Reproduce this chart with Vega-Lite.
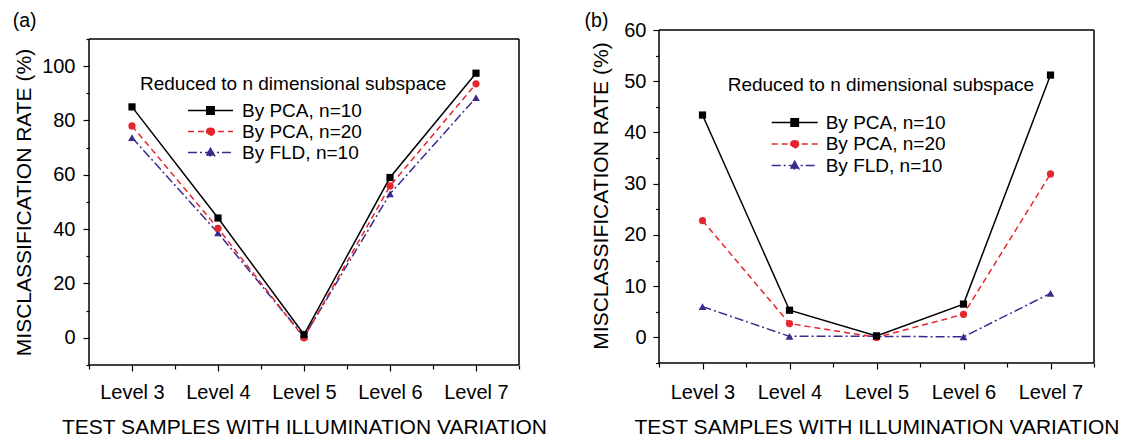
{
  "$schema": "https://vega.github.io/schema/vega-lite/v6.json",
  "padding": {"left": 12, "top": 10, "right": 0, "bottom": 0},
  "spacing": 37,
  "config": {
    "font": "Liberation Sans",
    "view": {"stroke": null},
    "axis": {
      "grid": false,
      "labelColor": "black",
      "titleColor": "black",
      "tickColor": "black",
      "domainColor": "black",
      "domainWidth": 1.5,
      "tickWidth": 1.2,
      "labelFontSize": 20,
      "titleFontSize": 21,
      "titleFontWeight": "normal",
      "labelOverlap": false,
      "labelFlush": false,
      "labelBound": false
    },
    "legend": {
      "labelColor": "black",
      "titleColor": "black",
      "titleFontWeight": "normal",
      "titleFontSize": 19,
      "labelFontSize": 19,
      "labelLimit": 400,
      "titleLimit": 500,
      "padding": 0
    }
  },
  "datasets": {
    "a": [
      {"level": 3, "series": "By PCA, n=10", "rate": 85.0},
      {"level": 4, "series": "By PCA, n=10", "rate": 44.1},
      {"level": 5, "series": "By PCA, n=10", "rate": 1.2},
      {"level": 6, "series": "By PCA, n=10", "rate": 59.0},
      {"level": 7, "series": "By PCA, n=10", "rate": 97.4},
      {"level": 3, "series": "By PCA, n=20", "rate": 78.0},
      {"level": 4, "series": "By PCA, n=20", "rate": 40.3},
      {"level": 5, "series": "By PCA, n=20", "rate": 0.0},
      {"level": 6, "series": "By PCA, n=20", "rate": 55.9},
      {"level": 7, "series": "By PCA, n=20", "rate": 93.5},
      {"level": 3, "series": "By FLD, n=10", "rate": 73.7},
      {"level": 4, "series": "By FLD, n=10", "rate": 38.6},
      {"level": 5, "series": "By FLD, n=10", "rate": 0.4},
      {"level": 6, "series": "By FLD, n=10", "rate": 53.0},
      {"level": 7, "series": "By FLD, n=10", "rate": 88.4}
    ],
    "b": [
      {"level": 3, "series": "By PCA, n=10", "rate": 43.4},
      {"level": 4, "series": "By PCA, n=10", "rate": 5.3},
      {"level": 5, "series": "By PCA, n=10", "rate": 0.3},
      {"level": 6, "series": "By PCA, n=10", "rate": 6.5},
      {"level": 7, "series": "By PCA, n=10", "rate": 51.2},
      {"level": 3, "series": "By PCA, n=20", "rate": 22.8},
      {"level": 4, "series": "By PCA, n=20", "rate": 2.7},
      {"level": 5, "series": "By PCA, n=20", "rate": 0.0},
      {"level": 6, "series": "By PCA, n=20", "rate": 4.5},
      {"level": 7, "series": "By PCA, n=20", "rate": 31.9},
      {"level": 3, "series": "By FLD, n=10", "rate": 6.0},
      {"level": 4, "series": "By FLD, n=10", "rate": 0.2},
      {"level": 5, "series": "By FLD, n=10", "rate": 0.2},
      {"level": 6, "series": "By FLD, n=10", "rate": 0.1},
      {"level": 7, "series": "By FLD, n=10", "rate": 8.6}
    ]
  },
  "resolve": {"scale": {"color": "independent"}, "legend": {"color": "independent"}},
  "hconcat": [
    {
      "width": 430,
      "height": 335,
      "resolve": {"scale": {"y": "independent"}, "axis": {"y": "independent"}},
      "layer": [
        {
          "data": {"name": "a"},
          "encoding": {
            "x": {"field": "level", "type": "quantitative", "scale": {"domain": [2.5, 7.5], "nice": false, "zero": false},
              "axis": {"title": "TEST SAMPLES WITH ILLUMINATION VARIATION", "values": [2.5, 3, 3.5, 4, 4.5, 5, 5.5, 6, 6.5, 7, 7.5],
                "labelExpr": "datum.value % 1 == 0 ? 'Level ' + datum.value : ''",
                "tickSize": {"condition": {"test": "datum.value % 1 == 0", "value": 6}, "value": 4},
                "domain": false,
                "labelBaseline": "alphabetic", "labelPadding": 27, "titleY": 68, "titleBaseline": "alphabetic"}},
            "y": {"field": "rate", "type": "quantitative", "scale": {"domain": [-10, 113.3], "nice": false, "zero": false},
              "axis": {"title": "MISCLASSIFICATION RATE (%)", "values": [-10, 0, 10, 20, 30, 40, 50, 60, 70, 80, 90, 100, 110],
                "labelExpr": "datum.value % 20 == 0 && datum.value >= 0 && datum.value <= 100 ? '' + datum.value : ''",
                "tickSize": {"condition": {"test": "datum.value % 20 == 0", "value": 6}, "value": 3},
                "domain": false, "labelPadding": 8, "titleX": -58.5, "titleY": 172, "titleBaseline": "alphabetic"}},
            "color": {"field": "series", "type": "nominal",
              "scale": {"domain": ["By PCA, n=10", "By PCA, n=20", "By FLD, n=10"], "range": ["#000000", "#e5262e", "#3b2b8f"]},
              "legend": {"orient": "none", "legendX": 51, "legendY": 45, "title": "Reduced to n dimensional subspace",
                "titlePadding": 7, "rowPadding": 1, "symbolSize": 100, "labelOffset": 83,
                "encode": {"symbols": {"update": {
                  "shape": {"signal": "datum.value == 'By PCA, n=10' ? 'M-4.5,0H4.5M-0.74,-0.74H0.74V0.74H-0.74Z' : datum.value == 'By PCA, n=20' ? 'M-4.5,0H4.5M0.78,0A0.78,0.78,0,1,1,-0.78,0A0.78,0.78,0,1,1,0.78,0Z' : 'M-4.5,0H4.5M0,-0.85L0.82,0.65H-0.82Z'"},
                  "size": {"value": 100},
                  "x": {"value": 70.5},
                  "fill": {"signal": "datum.value == 'By PCA, n=10' ? '#000000' : datum.value == 'By PCA, n=20' ? '#e5262e' : '#3b2b8f'"},
                  "stroke": {"signal": "datum.value == 'By PCA, n=10' ? '#000000' : datum.value == 'By PCA, n=20' ? '#e5262e' : '#3b2b8f'"},
                  "strokeDash": {"signal": "datum.value == 'By PCA, n=10' ? [1,0] : datum.value == 'By PCA, n=20' ? [6,4] : [9,3,2,3]"},
                  "strokeWidth": {"value": 1.5},
                  "opacity": {"value": 1}
                }}}}}
          },
          "layer": [
            {"transform": [{"filter": "datum.series == 'By FLD, n=10'"}], "mark": {"type": "line", "strokeWidth": 1.5, "strokeDash": [9, 3, 2, 3]}},
            {"transform": [{"filter": "datum.series == 'By PCA, n=20'"}], "mark": {"type": "line", "strokeWidth": 1.5, "strokeDash": [6, 4]}},
            {"transform": [{"filter": "datum.series == 'By PCA, n=10'"}], "mark": {"type": "line", "strokeWidth": 1.5}},
            {"transform": [{"filter": "datum.series == 'By FLD, n=10'"}], "mark": {"type": "point", "filled": true, "opacity": 1, "shape": "triangle-up", "size": 60}},
            {"transform": [{"filter": "datum.series == 'By PCA, n=20'"}], "mark": {"type": "point", "filled": true, "opacity": 1, "shape": "circle", "size": 52}},
            {"transform": [{"filter": "datum.series == 'By PCA, n=10'"}], "mark": {"type": "point", "filled": true, "opacity": 1, "shape": "square", "size": 52}}
          ]
        },
        {
          "data": {"values": [{}]},
          "layer": [
            {
              "mark": {"type": "rule", "color": "black", "strokeWidth": 1.5},
              "encoding": {"x": {"datum": 2.5}, "x2": {"datum": 7.5},
                "y": {"datum": 110, "type": "quantitative", "scale": {"domain": [-10, 113.3], "nice": false, "zero": false}, "axis": null}}
            },
            {
              "mark": {"type": "rule", "color": "black", "strokeWidth": 1.5},
              "encoding": {"x": {"datum": 2.5}, "x2": {"datum": 7.5},
                "y": {"datum": -10, "type": "quantitative", "scale": {"domain": [-10, 113.3], "nice": false, "zero": false}, "axis": null}}
            },
            {
              "mark": {"type": "rule", "color": "black", "strokeWidth": 1.5},
              "encoding": {"x": {"datum": 2.5},
                "y": {"datum": -10, "type": "quantitative", "scale": {"domain": [-10, 113.3], "nice": false, "zero": false}, "axis": null}, "y2": {"datum": 110}}
            },
            {
              "mark": {"type": "rule", "color": "black", "strokeWidth": 1.5},
              "encoding": {"x": {"datum": 7.5},
                "y": {"datum": -10, "type": "quantitative", "scale": {"domain": [-10, 113.3], "nice": false, "zero": false}, "axis": null}, "y2": {"datum": 110}}
            },
            {
              "mark": {"type": "text", "align": "left", "baseline": "alphabetic", "fontSize": 19.5, "color": "black", "clip": false, "text": "(a)"},
              "encoding": {"x": {"datum": 1.612},
                "y": {"datum": 114.4, "type": "quantitative", "scale": {"domain": [-10, 113.3], "nice": false, "zero": false}, "axis": null}}
            }
          ]
        }
      ]
    },
    {
      "width": 435,
      "height": 333,
      "resolve": {"scale": {"y": "independent"}, "axis": {"y": "independent"}},
      "layer": [
        {
          "data": {"name": "b"},
          "encoding": {
            "x": {"field": "level", "type": "quantitative", "scale": {"domain": [2.5, 7.5], "nice": false, "zero": false},
              "axis": {"title": "TEST SAMPLES WITH ILLUMINATION VARIATION", "values": [2.5, 3, 3.5, 4, 4.5, 5, 5.5, 6, 6.5, 7, 7.5],
                "labelExpr": "datum.value % 1 == 0 ? 'Level ' + datum.value : ''",
                "tickSize": {"condition": {"test": "datum.value % 1 == 0", "value": 6}, "value": 4},
                "domain": false,
                "labelBaseline": "alphabetic", "labelPadding": 29, "titleY": 70, "titleBaseline": "alphabetic"}},
            "y": {"field": "rate", "type": "quantitative", "scale": {"domain": [-5, 60], "nice": false, "zero": false},
              "axis": {"title": "MISCLASSIFICATION RATE (%)", "values": [-5, 0, 5, 10, 15, 20, 25, 30, 35, 40, 45, 50, 55, 60],
                "labelExpr": "datum.value % 10 == 0 && datum.value >= 0 ? '' + datum.value : ''",
                "tickSize": {"condition": {"test": "datum.value % 10 == 0", "value": 6}, "value": 3.5},
                "domain": false, "labelPadding": 7, "titleX": -52, "titleY": 165.5, "titleBaseline": "alphabetic"}},
            "color": {"field": "series", "type": "nominal",
              "scale": {"domain": ["By PCA, n=10", "By PCA, n=20", "By FLD, n=10"], "range": ["#000000", "#e5262e", "#3b2b8f"]},
              "legend": {"orient": "none", "legendX": 68.7, "legendY": 46, "title": "Reduced to n dimensional subspace",
                "titlePadding": 18, "rowPadding": 1.5, "symbolSize": 100, "labelOffset": 79,
                "encode": {"symbols": {"update": {
                  "shape": {"signal": "datum.value == 'By PCA, n=10' ? 'M-4.6,0H4.6M-0.74,-0.74H0.74V0.74H-0.74Z' : datum.value == 'By PCA, n=20' ? 'M-4.6,0H4.6M0.78,0A0.78,0.78,0,1,1,-0.78,0A0.78,0.78,0,1,1,0.78,0Z' : 'M-4.6,0H4.6M0,-0.85L0.82,0.65H-0.82Z'"},
                  "size": {"value": 100},
                  "x": {"value": 67},
                  "fill": {"signal": "datum.value == 'By PCA, n=10' ? '#000000' : datum.value == 'By PCA, n=20' ? '#e5262e' : '#3b2b8f'"},
                  "stroke": {"signal": "datum.value == 'By PCA, n=10' ? '#000000' : datum.value == 'By PCA, n=20' ? '#e5262e' : '#3b2b8f'"},
                  "strokeDash": {"signal": "datum.value == 'By PCA, n=10' ? [1,0] : datum.value == 'By PCA, n=20' ? [6,4] : [9,3,2,3]"},
                  "strokeWidth": {"value": 1.5},
                  "opacity": {"value": 1}
                }}}}}
          },
          "layer": [
            {"transform": [{"filter": "datum.series == 'By FLD, n=10'"}], "mark": {"type": "line", "strokeWidth": 1.5, "strokeDash": [9, 3, 2, 3]}},
            {"transform": [{"filter": "datum.series == 'By PCA, n=20'"}], "mark": {"type": "line", "strokeWidth": 1.5, "strokeDash": [6, 4]}},
            {"transform": [{"filter": "datum.series == 'By PCA, n=10'"}], "mark": {"type": "line", "strokeWidth": 1.5}},
            {"transform": [{"filter": "datum.series == 'By FLD, n=10'"}], "mark": {"type": "point", "filled": true, "opacity": 1, "shape": "triangle-up", "size": 60}},
            {"transform": [{"filter": "datum.series == 'By PCA, n=20'"}], "mark": {"type": "point", "filled": true, "opacity": 1, "shape": "circle", "size": 52}},
            {"transform": [{"filter": "datum.series == 'By PCA, n=10'"}], "mark": {"type": "point", "filled": true, "opacity": 1, "shape": "square", "size": 52}}
          ]
        },
        {
          "data": {"values": [{}]},
          "layer": [
            {
              "mark": {"type": "rule", "color": "black", "strokeWidth": 1.5},
              "encoding": {"x": {"datum": 2.5}, "x2": {"datum": 7.5},
                "y": {"datum": 60, "type": "quantitative", "scale": {"domain": [-5, 60], "nice": false, "zero": false}, "axis": null}}
            },
            {
              "mark": {"type": "rule", "color": "black", "strokeWidth": 1.5},
              "encoding": {"x": {"datum": 2.5}, "x2": {"datum": 7.5},
                "y": {"datum": -5, "type": "quantitative", "scale": {"domain": [-5, 60], "nice": false, "zero": false}, "axis": null}}
            },
            {
              "mark": {"type": "rule", "color": "black", "strokeWidth": 1.5},
              "encoding": {"x": {"datum": 2.5},
                "y": {"datum": -5, "type": "quantitative", "scale": {"domain": [-5, 60], "nice": false, "zero": false}, "axis": null}, "y2": {"datum": 60}}
            },
            {
              "mark": {"type": "rule", "color": "black", "strokeWidth": 1.5},
              "encoding": {"x": {"datum": 7.5},
                "y": {"datum": -5, "type": "quantitative", "scale": {"domain": [-5, 60], "nice": false, "zero": false}, "axis": null}, "y2": {"datum": 60}}
            },
            {
              "mark": {"type": "text", "align": "left", "baseline": "alphabetic", "fontSize": 19.5, "color": "black", "clip": false, "text": "(b)"},
              "encoding": {"x": {"datum": 1.645},
                "y": {"datum": 60.59, "type": "quantitative", "scale": {"domain": [-5, 60], "nice": false, "zero": false}, "axis": null}}
            }
          ]
        }
      ]
    }
  ]
}
